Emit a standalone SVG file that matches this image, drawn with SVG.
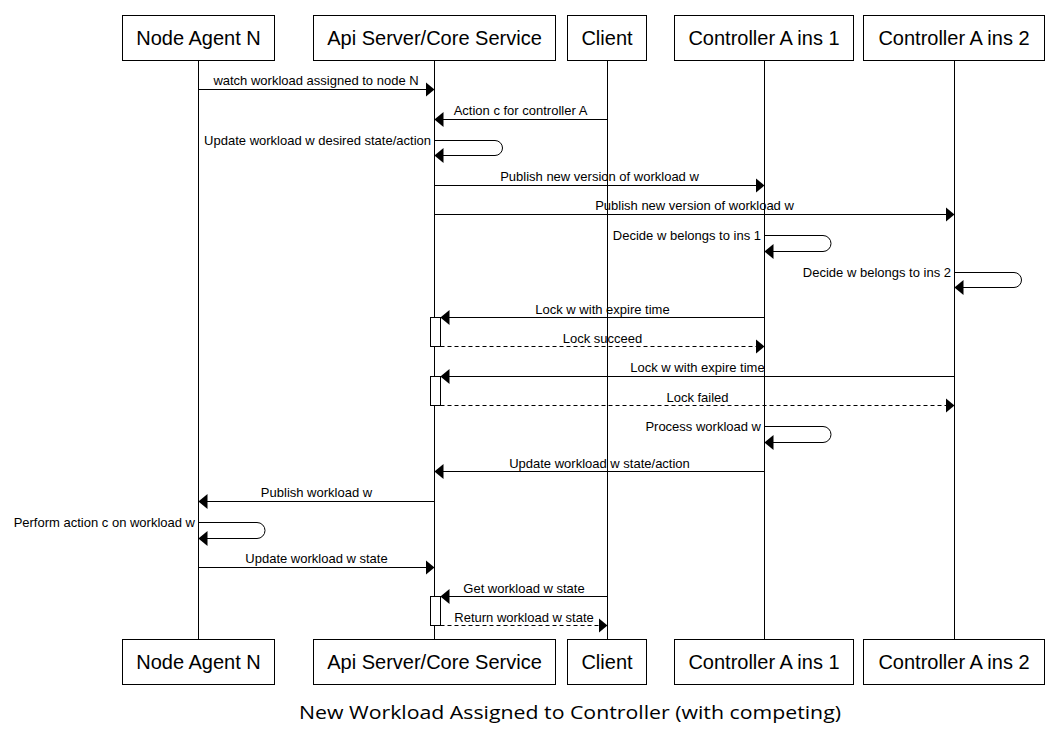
<svg xmlns="http://www.w3.org/2000/svg" width="1060" height="750" viewBox="0 0 1060 750">
<defs>
<style>
.box{fill:#fff;stroke:#000;stroke-width:1}
.hd{font-family:"Liberation Sans",Arial,sans-serif;font-size:20px;fill:#000;text-anchor:middle}
.life{stroke:#000;stroke-width:1}
.msg{fill:none;stroke:#000;stroke-width:1;marker-end:url(#ah)}
.dash{stroke-dasharray:4,3}
.lbl{font-family:"Liberation Sans",Arial,sans-serif;font-size:13px;fill:#000;text-anchor:middle}
.lr{text-anchor:end}
.act{fill:#fff;stroke:#000;stroke-width:1}
.title{font-family:"Open Sans","Noto Sans",sans-serif;font-size:19px;fill:#000;text-anchor:middle}
</style>
<marker id="ah" viewBox="0 0 9 15" refX="9" refY="7.5" markerWidth="9" markerHeight="15" markerUnits="userSpaceOnUse" orient="auto">
<path d="M0,0 L9,7.5 L0,15 z" fill="#000"/>
</marker>
</defs>
<rect width="1060" height="750" fill="#fff"/>

<g id="lifelines">
<line class="life" x1="198.5" y1="60" x2="198.5" y2="640"/>
<line class="life" x1="434.5" y1="60" x2="434.5" y2="640"/>
<line class="life" x1="607.5" y1="60" x2="607.5" y2="640"/>
<line class="life" x1="764.5" y1="60" x2="764.5" y2="640"/>
<line class="life" x1="954.5" y1="60" x2="954.5" y2="640"/>
</g>

<g id="node-agent">
<rect class="box" x="122.5" y="15.5" width="152" height="45"/>
<text class="hd" x="198.5" y="45">Node Agent N</text>
<rect class="box" x="122.5" y="639.5" width="152" height="45"/>
<text class="hd" x="198.5" y="669">Node Agent N</text>
</g>
<g id="api-server">
<rect class="box" x="313.5" y="15.5" width="242" height="45"/>
<text class="hd" x="434.5" y="45">Api Server/Core Service</text>
<rect class="box" x="313.5" y="639.5" width="242" height="45"/>
<text class="hd" x="434.5" y="669">Api Server/Core Service</text>
</g>
<g id="client">
<rect class="box" x="567.5" y="15.5" width="79" height="45"/>
<text class="hd" x="607" y="45">Client</text>
<rect class="box" x="567.5" y="639.5" width="79" height="45"/>
<text class="hd" x="607" y="669">Client</text>
</g>
<g id="controller-a-ins-1">
<rect class="box" x="674.5" y="15.5" width="179" height="45"/>
<text class="hd" x="764" y="45">Controller A ins 1</text>
<rect class="box" x="674.5" y="639.5" width="179" height="45"/>
<text class="hd" x="764" y="669">Controller A ins 1</text>
</g>
<g id="controller-a-ins-2">
<rect class="box" x="863.5" y="15.5" width="181" height="45"/>
<text class="hd" x="954" y="45">Controller A ins 2</text>
<rect class="box" x="863.5" y="639.5" width="181" height="45"/>
<text class="hd" x="954" y="669">Controller A ins 2</text>
</g>

<g id="activations">
<rect class="act" x="430.5" y="317.5" width="10" height="29"/>
<rect class="act" x="430.5" y="376.5" width="10" height="29"/>
<rect class="act" x="430.5" y="596.5" width="10" height="29"/>
</g>

<g id="connectors">
<line class="msg" x1="198.5" y1="89.5" x2="434.5" y2="89.5"/>
<text class="lbl" x="316" y="85">watch workload assigned to node N</text>

<line class="msg" x1="607.5" y1="119.5" x2="434.5" y2="119.5"/>
<text class="lbl" x="520.5" y="115">Action c for controller A</text>

<path class="msg" d="M434.5,140.5 H495 A7.5,7.5 0 0 1 502.5,148 A7.5,7.5 0 0 1 495,155.5 H434.5"/>
<text class="lbl lr" x="431" y="145">Update workload w desired state/action</text>

<line class="msg" x1="434.5" y1="185.5" x2="764.5" y2="185.5"/>
<text class="lbl" x="599.5" y="181">Publish new version of workload w</text>

<line class="msg" x1="434.5" y1="214.5" x2="954.5" y2="214.5"/>
<text class="lbl" x="694.5" y="210">Publish new version of workload w</text>

<path class="msg" d="M764.5,235.5 H823 A8,8 0 0 1 831,243.5 A8,8 0 0 1 823,251.5 H764.5"/>
<text class="lbl lr" x="761" y="240">Decide w belongs to ins 1</text>

<path class="msg" d="M954.5,272.5 H1014 A7.5,7.5 0 0 1 1021.5,280 A7.5,7.5 0 0 1 1014,287.5 H954.5"/>
<text class="lbl lr" x="951" y="277">Decide w belongs to ins 2</text>

<line class="msg" x1="764.5" y1="317.5" x2="440.5" y2="317.5"/>
<text class="lbl" x="602.5" y="314">Lock w with expire time</text>

<line class="msg dash" x1="440.5" y1="346.5" x2="764.5" y2="346.5"/>
<text class="lbl" x="602.5" y="343">Lock succeed</text>

<line class="msg" x1="954.5" y1="376.5" x2="440.5" y2="376.5"/>
<text class="lbl" x="697.5" y="372">Lock w with expire time</text>

<line class="msg dash" x1="440.5" y1="405.5" x2="954.5" y2="405.5"/>
<text class="lbl" x="697.5" y="402">Lock failed</text>

<path class="msg" d="M764.5,426.5 H823 A8,8 0 0 1 831,434.5 A8,8 0 0 1 823,442.5 H764.5"/>
<text class="lbl lr" x="761" y="431">Process workload w</text>

<line class="msg" x1="764.5" y1="471.5" x2="434.5" y2="471.5"/>
<text class="lbl" x="599.5" y="468">Update workload w state/action</text>

<line class="msg" x1="434.5" y1="501.5" x2="198.5" y2="501.5"/>
<text class="lbl" x="316.5" y="497">Publish workload w</text>

<path class="msg" d="M198.5,522.5 H257 A8,8 0 0 1 265,530.5 A8,8 0 0 1 257,538.5 H198.5"/>
<text class="lbl lr" x="195" y="527">Perform action c on workload w</text>

<line class="msg" x1="198.5" y1="567.5" x2="434.5" y2="567.5"/>
<text class="lbl" x="316.5" y="563">Update workload w state</text>

<line class="msg" x1="607.5" y1="596.5" x2="440.5" y2="596.5"/>
<text class="lbl" x="524" y="593">Get workload w state</text>

<line class="msg dash" x1="440.5" y1="625.5" x2="607.5" y2="625.5"/>
<text class="lbl" x="524" y="622">Return workload w state</text>
</g>

<text class="title" x="570" y="719" textLength="542" lengthAdjust="spacingAndGlyphs">New Workload Assigned to Controller (with competing)</text>
</svg>
